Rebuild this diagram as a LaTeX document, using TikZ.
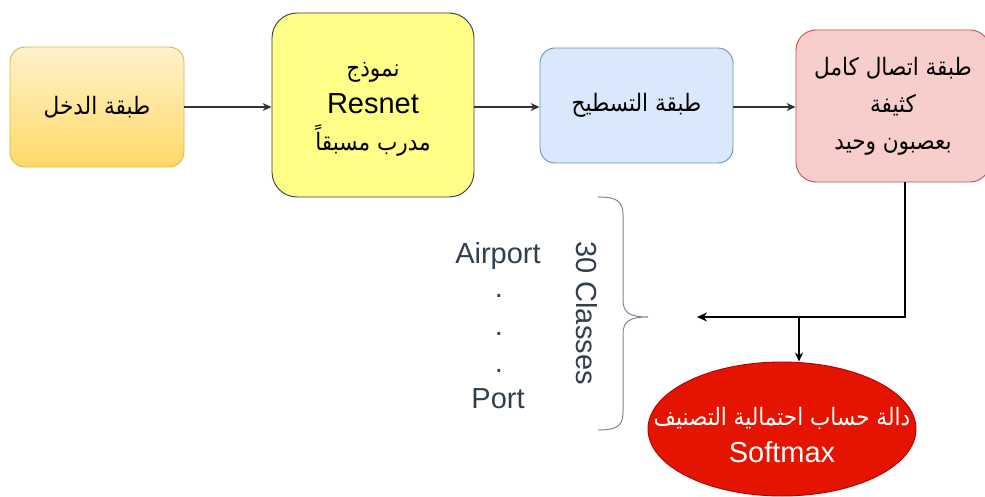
\documentclass[tikz,border=0pt]{standalone}
\usepackage{fontspec}
\setmainfont{Liberation Sans}
\newfontfamily\arabicfont[Script=Arabic]{DejaVu Sans Condensed}
\TeXXeTstate=1
\usetikzlibrary{shapes.geometric,arrows.meta}
\definecolor{inTop}{HTML}{FFF2CC}
\definecolor{inBot}{HTML}{FFD966}
\definecolor{inBord}{HTML}{D6B656}
\definecolor{rsFill}{HTML}{FFFF88}
\definecolor{rsBord}{HTML}{36393D}
\definecolor{flFill}{HTML}{DAE8FC}
\definecolor{flBord}{HTML}{6C8EBF}
\definecolor{dnFill}{HTML}{F8CECC}
\definecolor{dnBord}{HTML}{B85450}
\definecolor{smFill}{HTML}{E51400}
\definecolor{smBord}{HTML}{B20000}
\definecolor{lblCol}{HTML}{333F50}
\definecolor{brCol}{HTML}{7A8794}
\newcommand{\artxt}[1]{{\arabicfont\fontsize{24}{37}\selectfont\beginR #1\endR}}
\begin{document}
\begin{tikzpicture}[x=1pt,y=-1pt,
  every node/.style={font=\fontsize{29}{37}\selectfont},
  blk/.style={draw, line width=0.9pt, align=center, inner sep=0pt},
  flow/.style={draw=black!80, line width=1.3pt, -{Stealth[length=9pt,width=8pt]}},
  lbl/.style={text=lblCol, inner sep=0pt}
]
\useasboundingbox (0,0) rectangle (985,497);
\node[blk, draw=inBord, top color=inTop, bottom color=inBot, rounded corners=15pt,
  minimum width=174pt, minimum height=120pt] (inp) at (97,107) {\artxt{طبقة الدخل}};
\node[blk, draw=rsBord, fill=rsFill, rounded corners=25pt,
  minimum width=202pt, minimum height=184pt] (res) at (373,105) {};
\node[align=center, inner sep=0pt] (restxt) at ([yshift=-4pt]res.center)
  {\artxt{نموذج}\\Resnet\\\artxt{مدرب مسبقاً}};
\node[blk, draw=flBord, fill=flFill, rounded corners=15pt,
  minimum width=193pt, minimum height=115pt] (flat) at (636.5,105.5) {\artxt{طبقة التسطيح}};
\node[blk, draw=dnBord, fill=dnFill, rounded corners=20pt,
  minimum width=194pt, minimum height=152pt] (dense) at (893,106)
  {\artxt{طبقة اتصال كامل}\\\artxt{كثيفة}\\\artxt{بعصبون وحيد}};
\node[ellipse, draw=smBord, fill=smFill, line width=0.9pt, inner sep=0pt,
  minimum width=268pt, minimum height=134pt] (soft) at (782,429) {};
\node[text=white, align=center, inner sep=0pt] (softtxt) at ([yshift=-6pt]soft.center)
  {\artxt{دالة حساب احتمالية التصنيف}\\Softmax};

\draw[flow] (inp.east) -- (inp.east -| res.west);
\draw[flow] (res.east |- inp.east) -- (inp.east -| flat.west);
\draw[flow] (flat.east |- inp.east) -- (inp.east -| dense.west);

\coordinate (turn) at (905,317);
\coordinate (tipL) at (697,317);
\coordinate (split) at (799,317);
\draw[black, line width=2.4pt, -{Stealth[length=10pt,width=9pt]}] (turn |- dense.south) -- (turn) -- (tipL);
\draw[black, line width=1.8pt, -{Stealth[length=9pt,width=8pt]}] (split) -- (split |- soft.north);

\draw[brCol, line width=1pt] (598,197) .. controls (615,197) and (623,200) .. (623,215)
  -- (623,300) .. controls (623,313) and (630,317) .. (648,317)
  .. controls (630,317) and (623,321) .. (623,334)
  -- (623,413) .. controls (623,427) and (615,430) .. (598,430);

\node[lbl, rotate=-90] (cls) at (587,313) {30 Classes};
\node[lbl, anchor=base] (air) at (498,263) {Airport};
\node[lbl, anchor=base] (d1) at (499,297) {.};
\node[lbl, anchor=base] (d2) at (499,335) {.};
\node[lbl, anchor=base] (d3) at (499,372) {.};
\node[lbl, anchor=base] (prt) at (498,408) {Port};
\end{tikzpicture}
\end{document}
